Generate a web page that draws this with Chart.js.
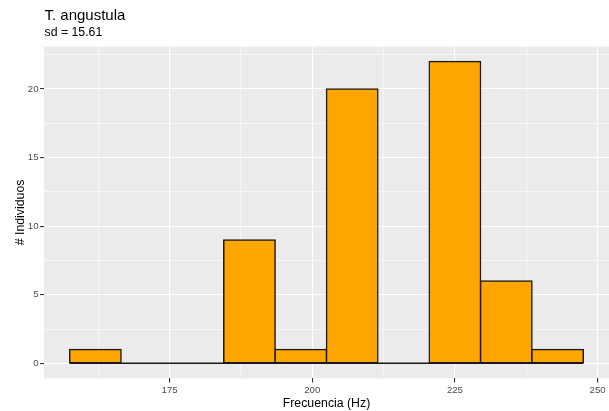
<!DOCTYPE html>
<html>
<head>
<meta charset="utf-8">
<script src="https://cdn.jsdelivr.net/npm/chart.js@4.4.1/dist/chart.umd.min.js"></script>
<style>
  html, body { margin: 0; padding: 0; background: #ffffff; }
  #wrap { width: 609px; height: 411px; }
</style>
</head>
<body>
<div id="wrap"><canvas id="hist" width="609" height="411"></canvas></div>
<script>
// Histogram of call frequencies, bins of 9 Hz
const binCenters = [162, 171, 180, 189, 198, 207, 216, 225, 234, 243];
const counts = [1, 0, 0, 9, 1, 20, 0, 22, 6, 1];
const binRange = [157.5, 247.5];

const xTicks = [162.5, 175, 187.5, 200, 212.5, 225, 237.5, 250];
const xMajor = [175, 200, 225, 250];
const yTicks = [0, 2.5, 5, 7.5, 10, 12.5, 15, 17.5, 20, 22.5];
const yMajor = [0, 5, 10, 15, 20];

const titleText = 'T. angustula';
const subtitleText = 'sd = 15.61';
const xTitle = 'Frecuencia (Hz)';
const yTitle = '# Individuos';

const FONT = '"Liberation Sans", Arial, sans-serif';

const isMajor = (list, v) => list.some(m => Math.abs(m - v) < 1e-6);
const tickIsMajor = (list, c) => !!(c && c.tick) && isMajor(list, c.tick.value);

// Panel background plus titles drawn around the plotting area
const decor = {
  id: 'decor',
  beforeDraw(chart) {
    const { ctx, chartArea: a } = chart;
    ctx.save();
    ctx.fillStyle = '#EBEBEB';
    ctx.fillRect(a.left, a.top, a.right - a.left, a.bottom - a.top);
    ctx.restore();
  },
  afterDraw(chart) {
    const { ctx, chartArea: a } = chart;
    ctx.save();
    ctx.fillStyle = '#000000';
    ctx.textAlign = 'left';
    ctx.textBaseline = 'alphabetic';
    ctx.font = '15px ' + FONT;
    ctx.fillText(titleText, a.left + 0.5, 20);
    ctx.font = '12.3px ' + FONT;
    ctx.fillText(subtitleText, a.left + 0.5, 35.5);

    ctx.textAlign = 'center';
    ctx.fillText(xTitle, (a.left + a.right) / 2, 407);

    ctx.translate(24, (a.top + a.bottom) / 2);
    ctx.rotate(-Math.PI / 2);
    ctx.textBaseline = 'alphabetic';
    ctx.fillText(yTitle, 0, 0);
    ctx.restore();
  }
};

new Chart(document.getElementById('hist'), {
  type: 'bar',
  data: {
    datasets: [
      {
        type: 'bar',
        data: binCenters.map((x, i) => ({ x: x, y: counts[i] })),
        backgroundColor: '#FFA500',
        borderColor: '#1A1A1A',
        borderWidth: 1.5,
        borderSkipped: false,
        inflateAmount: 0.75,
        barPercentage: 1,
        categoryPercentage: 1,
        order: 1
      },
      {
        type: 'line',
        data: binRange.map(x => ({ x: x, y: 0 })),
        borderColor: '#1A1A1A',
        borderWidth: 1.5,
        pointRadius: 0,
        fill: false,
        order: 2
      }
    ]
  },
  options: {
    responsive: false,
    animation: false,
    layout: { padding: { top: 46.5, left: 0, right: 0, bottom: 0 } },
    plugins: {
      legend: { display: false },
      tooltip: { enabled: false },
      title: { display: false }
    },
    scales: {
      x: {
        type: 'linear',
        offset: false,
        min: 153,
        max: 252,
        afterFit(s) { s.height = 32.6; },
        afterBuildTicks(s) { s.ticks = xTicks.map(v => ({ value: v })); },
        border: { display: false },
        grid: {
          offset: false,
          color: '#FFFFFF',
          lineWidth: c => tickIsMajor(xMajor, c) ? 1.1 : 0.55,
          tickColor: c => tickIsMajor(xMajor, c) ? '#333333' : 'rgba(0,0,0,0)',
          tickWidth: 1.1,
          tickLength: 4
        },
        ticks: {
          autoSkip: false,
          maxRotation: 0,
          padding: 2,
          color: '#4D4D4D',
          font: { family: FONT, size: 9.6 },
          callback: v => isMajor(xMajor, v) ? String(v) : ''
        }
      },
      y: {
        type: 'linear',
        min: -1.1,
        max: 23.1,
        afterFit(s) { s.width = 44; },
        afterBuildTicks(s) { s.ticks = yTicks.map(v => ({ value: v })); },
        border: { display: false },
        grid: {
          color: '#FFFFFF',
          lineWidth: c => tickIsMajor(yMajor, c) ? 1.1 : 0.55,
          tickColor: c => tickIsMajor(yMajor, c) ? '#333333' : 'rgba(0,0,0,0)',
          tickWidth: 1.1,
          tickLength: 4
        },
        ticks: {
          autoSkip: false,
          padding: 1.5,
          color: '#4D4D4D',
          font: { family: FONT, size: 9.6 },
          callback: v => isMajor(yMajor, v) ? String(v) : ''
        }
      }
    }
  },
  plugins: [decor]
});
</script>
</body>
</html>
